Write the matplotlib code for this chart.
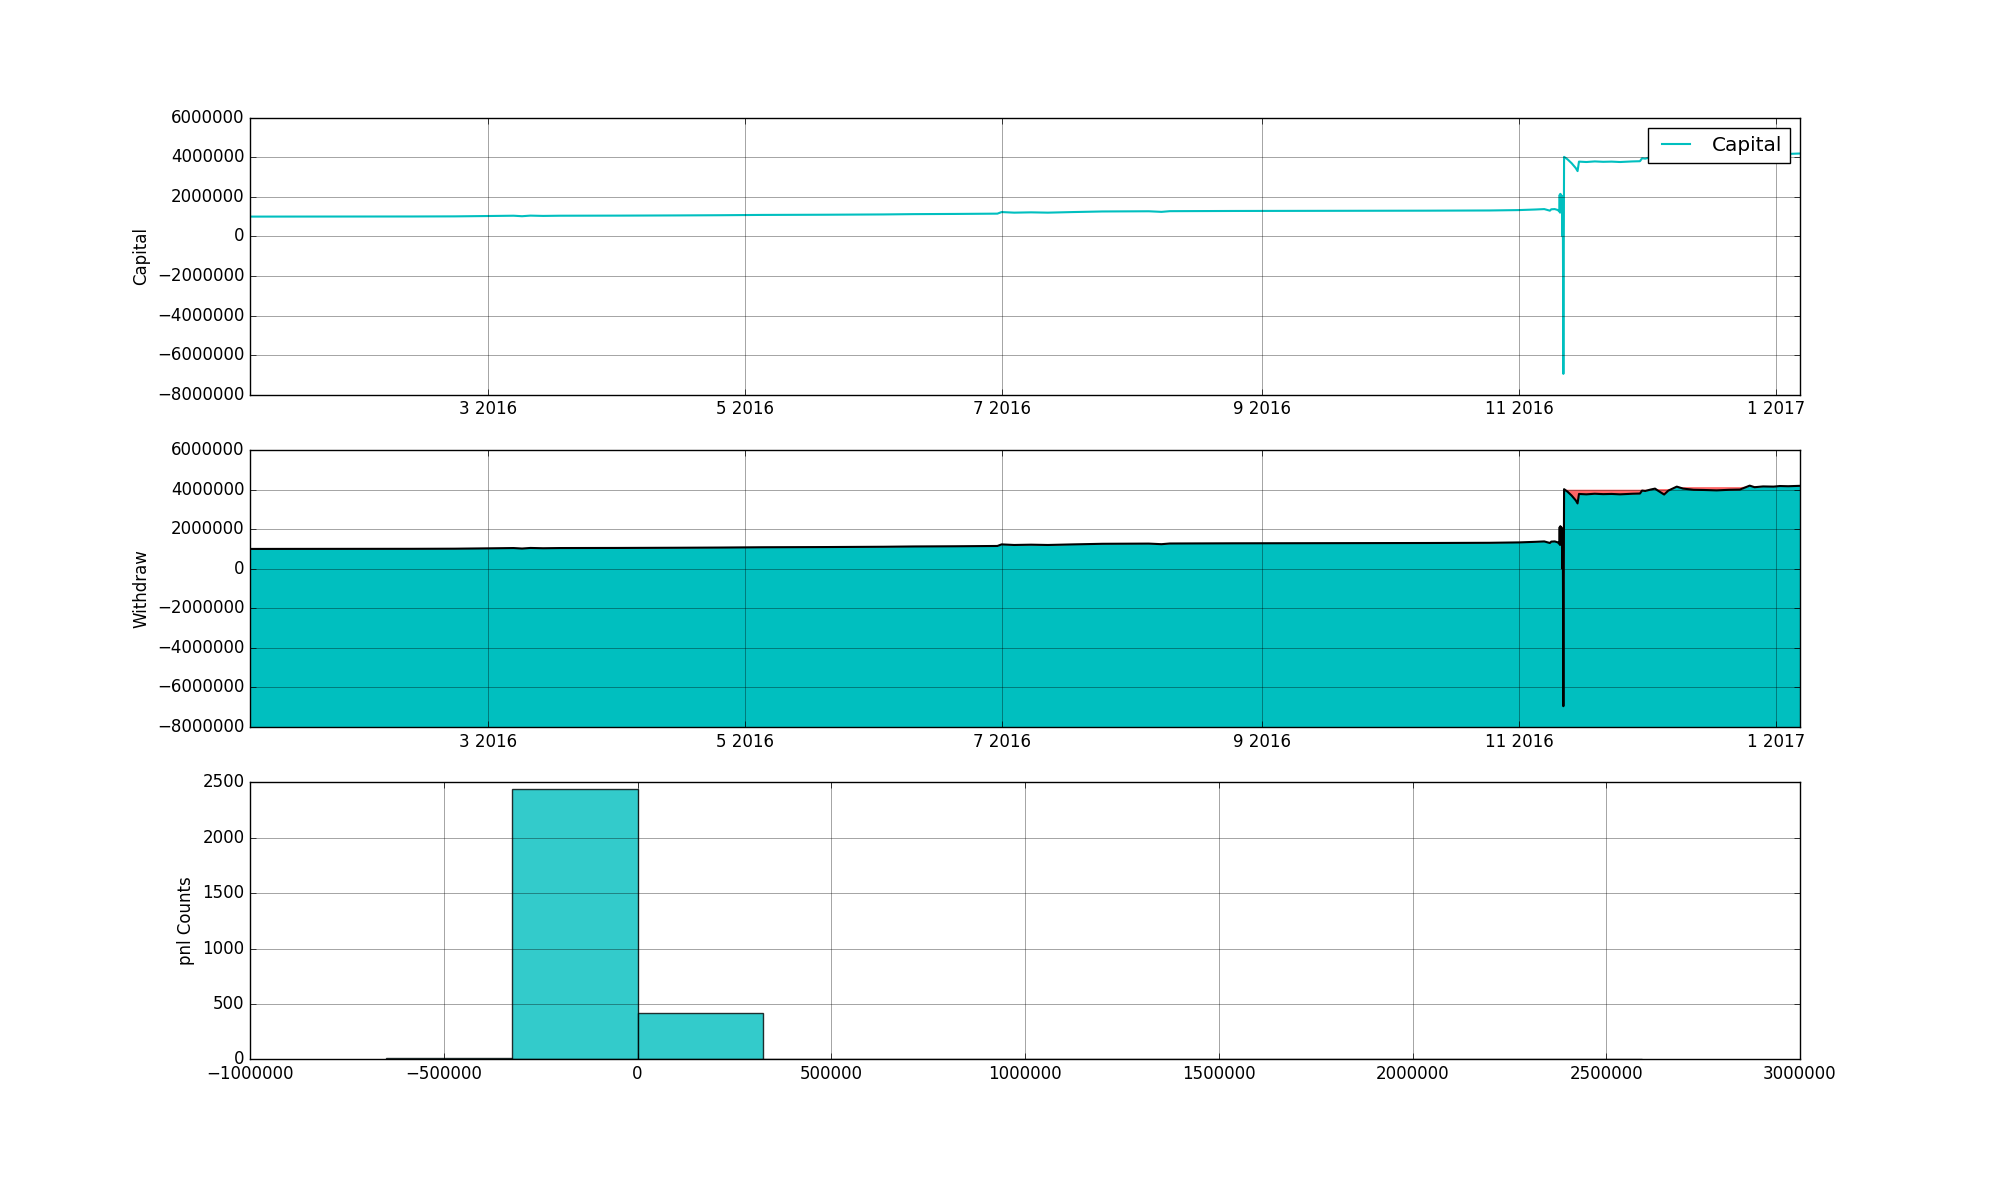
import numpy as np
import pandas as pd
import matplotlib
matplotlib.use('Agg')
import matplotlib.pyplot as plt
import matplotlib.dates as mdates
from matplotlib.ticker import FuncFormatter

plt.style.use('classic')
plt.rcParams['font.family'] = ['DejaVu Sans']

# ---- data ----
dates = [
    "2016-01-04 08:00", "2016-01-15", "2016-01-29", "2016-02-12", "2016-02-22",
    "2016-03-01", "2016-03-07", "2016-03-09", "2016-03-11", "2016-03-14",
    "2016-03-18", "2016-04-01", "2016-04-15", "2016-04-25", "2016-05-05",
    "2016-05-20", "2016-06-03", "2016-06-10", "2016-06-20", "2016-06-30",
    "2016-07-01", "2016-07-04", "2016-07-08", "2016-07-12", "2016-07-18",
    "2016-07-25", "2016-08-05", "2016-08-08", "2016-08-10", "2016-08-25",
    "2016-09-10", "2016-09-25", "2016-10-10", "2016-10-25", "2016-11-01",
    "2016-11-05", "2016-11-07", "2016-11-08 08:00", "2016-11-08 16:00", "2016-11-09 12:00",
    "2016-11-10 06:00", "2016-11-10 14:00", "2016-11-10 16:00", "2016-11-10 18:00", "2016-11-10 20:00",
    "2016-11-10 22:00", "2016-11-11 00:00", "2016-11-11 02:00", "2016-11-11 04:00", "2016-11-11 06:00",
    "2016-11-11 08:00", "2016-11-11 10:00", "2016-11-11 13:00", "2016-11-11 17:00", "2016-11-12 12:00",
    "2016-11-13 12:00", "2016-11-14 12:00", "2016-11-14 22:00", "2016-11-15 06:00", "2016-11-17",
    "2016-11-19", "2016-11-21", "2016-11-23", "2016-11-25", "2016-11-28",
    "2016-11-29 18:00", "2016-11-30 06:00", "2016-12-01", "2016-12-02 06:00", "2016-12-03 08:00",
    "2016-12-04", "2016-12-05 12:00", "2016-12-06 12:00", "2016-12-07", "2016-12-08 12:00",
    "2016-12-10", "2016-12-12 12:00", "2016-12-15", "2016-12-18", "2016-12-21",
    "2016-12-23 12:00", "2016-12-25 20:00", "2016-12-27", "2016-12-29", "2016-12-31 12:00",
    "2017-01-02", "2017-01-04", "2017-01-06 19:00",
]
capital = [
    1000000, 1002000, 1004000, 1006000, 1012000,
    1030000, 1045000, 1020000, 1050000, 1035000,
    1045000, 1050000, 1060000, 1070000, 1085000,
    1095000, 1110000, 1125000, 1135000, 1150000,
    1230000, 1200000, 1215000, 1200000, 1230000,
    1260000, 1270000, 1240000, 1275000, 1285000,
    1290000, 1295000, 1300000, 1310000, 1330000,
    1360000, 1380000, 1300000, 1370000, 1380000,
    1330000, 1250000, 2100000, 1200000, 2150000,
    1250000, 2100000, 1300000, 2050000, 1150000,
    0, 1300000, -6950000, 4020000, 3900000,
    3700000, 3450000, 3300000, 3780000, 3760000,
    3790000, 3770000, 3780000, 3760000, 3790000,
    3800000, 3950000, 3930000, 4000000, 4050000,
    3950000, 3750000, 3950000, 4000000, 4150000,
    4050000, 3990000, 3980000, 3960000, 3990000,
    4000000, 4200000, 4120000, 4160000, 4150000,
    4180000, 4170000, 4190000,
]
hist_edges = [-648000, -324000, 0, 324000, 648000, 972000,
              1296000, 1620000, 1944000, 2268000, 2592000]
hist_counts = [8, 2443, 422, 0, 0, 0, 0, 0, 0, 1]

# ---- derived ----
t = pd.to_datetime(dates, format='mixed')
cap = np.array(capital, dtype=float)
peak = np.maximum.accumulate(cap)
edges = np.array(hist_edges, dtype=float)
centers = (edges[:-1] + edges[1:]) / 2

fig, (ax1, ax2, ax3) = plt.subplots(3, 1, figsize=(20, 11.77), dpi=100)
fig.patch.set_facecolor('white')

grid_kw = dict(color='k', linestyle='-', linewidth=0.5, alpha=0.5)
month_fmt = FuncFormatter(lambda x, pos: "%d %d" % (mdates.num2date(x).month,
                                                      mdates.num2date(x).year))

ax1.plot(t, cap, color='c', lw=1.5, label='Capital')
ax1.set_ylabel('Capital')
ax1.legend(loc='upper right')

ax2.fill_between(t, -8e6, cap, color='c', lw=0)
ax2.fill_between(t, cap, peak, color=(1.0, 0.4, 0.4), lw=0)
ax2.plot(t, cap, color='k', lw=1.5)
ax2.set_ylabel('Withdraw')

for ax in (ax1, ax2):
    ax.set_xlim(t[0], t[-1])
    ax.set_ylim(-8e6, 6e6)
    ax.xaxis.set_major_locator(mdates.MonthLocator(bymonth=[1, 3, 5, 7, 9, 11]))
    ax.xaxis.set_major_formatter(month_fmt)
    ax.grid(True, **grid_kw)

ax3.hist(centers, bins=edges, weights=hist_counts, color='c', alpha=0.8, edgecolor='k')
ax3.set_xlim(-1e6, 3e6)
ax3.set_ylim(0, 2500)
ax3.set_ylabel('pnl Counts')
ax3.grid(True, **grid_kw)

fig.savefig('out.png', dpi=100, facecolor='white')
